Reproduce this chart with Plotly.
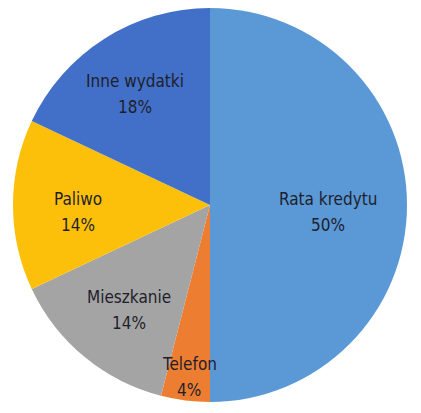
import math
import plotly.graph_objects as go

labels = ["Rata kredytu", "Telefon", "Mieszkanie", "Paliwo", "Inne wydatki"]
values = [50, 4, 14, 14, 18]
colors = ["#5a98d6", "#ed7d31", "#a4a4a4", "#fdc00a", "#4270c8"]
label_radius = [0.60, 0.845, 0.645, 0.67, 0.71]  # style: label distance from centre (fraction of radius)

W, H = 421, 413
CX, CY, R = 202, 197, 197  # figure pixel geometry of the pie
LINE_GAP = 13  # half distance between the two text lines (px)
DROP = 7       # overall downward nudge of labels (px)

fig = go.Figure(go.Pie(
    labels=labels,
    values=values,
    sort=False,
    direction="clockwise",
    rotation=0,
    marker=dict(colors=colors, line=dict(width=0)),
    textinfo="none",
    hoverinfo="label+percent",
    domain=dict(x=[(CX - R) / W, (CX + R) / W], y=[1 - (CY + R) / H, 1 - (CY - R) / H]),
))

total = sum(values)
cum = 0
font = dict(family="DejaVu Sans Condensed, Liberation Sans Narrow, sans-serif", size=17, color="#1f1f2b")
for lab, v, rf in zip(labels, values, label_radius):
    mid = (cum + v / 2) / total * 2 * math.pi
    cum += v
    px = CX + rf * R * math.sin(mid)
    py = CY - rf * R * math.cos(mid)
    for txt, shift in ((lab, LINE_GAP), (f"{round(v / total * 100)}%", -LINE_GAP)):
        fig.add_annotation(
            x=px / W, y=1 - py / H, xref="paper", yref="paper",
            xanchor="center", yanchor="middle", yshift=shift - DROP,
            text=txt, showarrow=False, font=font, align="center",
        )

fig.update_layout(
    width=W, height=H,
    margin=dict(l=0, r=0, t=0, b=0),
    showlegend=False,
    paper_bgcolor="white",
)
fig.write_html("out.html")
